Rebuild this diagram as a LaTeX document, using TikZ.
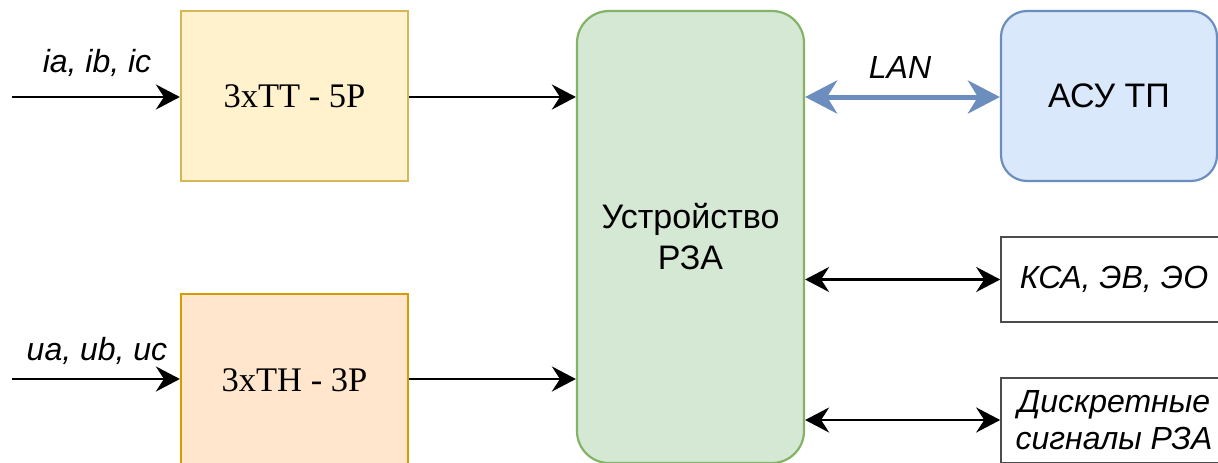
\documentclass[tikz,border=0pt]{standalone}
\usepackage{fontspec}
\setmainfont{Liberation Sans}
\newfontfamily\serifface{Liberation Serif}
\usetikzlibrary{arrows.meta}
\definecolor{ttfill}{HTML}{FFF2CC}\definecolor{ttdraw}{HTML}{D6B656}
\definecolor{thfill}{HTML}{FFE6CC}\definecolor{thdraw}{HTML}{D79B00}
\definecolor{gfill}{HTML}{D5E8D4}\definecolor{gdraw}{HTML}{82B366}
\definecolor{bfill}{HTML}{DAE8FC}\definecolor{bdraw}{HTML}{6C8EBF}
\begin{document}
\begin{tikzpicture}[x=1pt,y=-1pt,
  box/.style={draw, line width=2.2pt, minimum width=227pt, inner sep=0pt, font=\fontsize{34}{41}\selectfont, align=center},
  serifbox/.style={box, font=\serifface\fontsize{34.5}{41}\selectfont},
  lbl/.style={font=\itshape\fontsize{32}{39}\selectfont, inner sep=0pt, anchor=base},
  arr/.style={line width=2.6pt, -{Stealth[length=24pt,width=25pt,inset=8pt]}},
  darr/.style={line width=2.6pt, {Stealth[length=24pt,width=25pt,inset=8pt]}-{Stealth[length=24pt,width=25pt,inset=8pt]}},
  lanarr/.style={line width=5pt, draw=bdraw, {Stealth[length=32pt,width=33pt,inset=10pt]}-{Stealth[length=32pt,width=33pt,inset=10pt]}}
]
\useasboundingbox (0,0) rectangle (1218,463);
\clip (0,0) rectangle (1218,463);
\node[serifbox, fill=ttfill, draw=ttdraw, minimum height=170pt] (tt) at (294.5,96) {3xTT - 5P};
\node[serifbox, fill=thfill, draw=thdraw, minimum height=172pt] (th) at (294.5,380) {3xTH - 3P};
\node[box, fill=gfill, draw=gdraw, rounded corners=32pt, minimum height=452pt] (rza) at (690.5,237) {Устройство\\РЗА};
\node[box, fill=bfill, draw=bdraw, rounded corners=26pt, minimum width=216pt, minimum height=170pt] (asu) at (1109,96) {АСУ ТП};
\node[box, draw=black!70, line width=1.6pt, minimum width=226pt, minimum height=85pt, font=\itshape\fontsize{32}{39}\selectfont] (ksa) at (1114,279.5) {КСА, ЭВ, ЭО};
\node[box, draw=black!70, line width=1.6pt, minimum width=226pt, minimum height=85pt, font=\itshape\fontsize{32}{37}\selectfont] (disc) at (1114,420.5) {Дискретные\\сигналы РЗА};
\coordinate (inI) at (12,97);
\coordinate (inU) at (12,379);
\draw[arr] (inI) -- (tt.west |- inI);
\draw[arr] (inU) -- (th.west |- inU);
\node[lbl] (li) at (97,72) {ia, ib, ic};
\node[lbl] (lu) at (97,360) {ua, ub, uc};
\draw[arr] (tt.east |- 0,97) -- (rza.west |- 0,97);
\draw[arr] (th.east |- 0,379) -- (rza.west |- 0,379);
\draw[lanarr] (rza.east |- 0,97) -- (asu.west |- 0,97);
\node[lbl] (lan) at (900,78) {LAN};
\draw[darr] (rza.east |- ksa.west) -- (ksa.west);
\draw[darr] (rza.east |- 0,420) -- (disc.west |- 0,420);
\end{tikzpicture}
\end{document}
